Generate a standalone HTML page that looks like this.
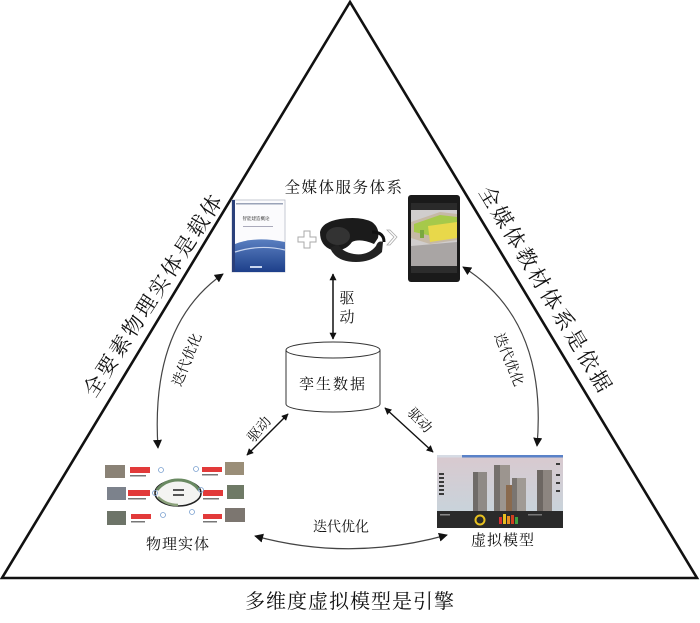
<!DOCTYPE html>
<html><head><meta charset="utf-8"><style>
html,body{margin:0;padding:0;background:#fff;}
svg{display:block;}
text{font-family:"Liberation Serif","Noto Serif CJK SC","Noto Sans CJK SC",serif;fill:#111;}
</style></head><body>
<svg width="700" height="623" viewBox="0 0 700 623" xmlns="http://www.w3.org/2000/svg">
<defs>
<marker id="ah" viewBox="0 0 10 10" refX="9" refY="5" markerWidth="7" markerHeight="7" orient="auto-start-reverse" markerUnits="userSpaceOnUse">
<path d="M0,0 L10,5 L0,10 z" fill="#111"/>
</marker>
<marker id="ah2" viewBox="0 0 10 10" refX="9" refY="5" markerWidth="9" markerHeight="9" orient="auto-start-reverse" markerUnits="userSpaceOnUse">
<path d="M0,0 L10,5 L0,10 z" fill="#111"/>
</marker>
<linearGradient id="sky" x1="0" y1="0" x2="0" y2="1"><stop offset="0" stop-color="#d9c9cf"/><stop offset="1" stop-color="#c4d6de"/></linearGradient>
<linearGradient id="bk" x1="0" y1="0" x2="0" y2="1"><stop offset="0" stop-color="#5a7fc0"/><stop offset="1" stop-color="#1d3f8a"/></linearGradient>
</defs>

<!-- Triangle -->
<polygon points="350,2 2,578 697,578" fill="none" stroke="#111" stroke-width="2.6" stroke-linejoin="miter"/>

<!-- Side labels -->
<text x="153" y="296" font-size="21" text-anchor="middle" dominant-baseline="central" transform="rotate(-57 153 296)" textLength="236" lengthAdjust="spacing">全要素物理实体是载体</text>
<text x="545" y="289" font-size="21" text-anchor="middle" dominant-baseline="central" transform="rotate(59 545 289)" textLength="236" lengthAdjust="spacing">全媒体教材体系是依据</text>

<!-- Top title -->
<text x="344" y="188" font-size="15.5" text-anchor="middle" dominant-baseline="central" letter-spacing="1.5">全媒体服务体系</text>

<!-- Book -->
<rect x="232" y="200" width="53" height="72" fill="#fbfbfd" stroke="#b8bcc8" stroke-width="0.8"/>
<rect x="232" y="200" width="3" height="72" fill="#2a3f7a"/>
<rect x="236" y="203" width="47" height="1.5" fill="#9aa3b8"/>
<text x="256" y="220" font-size="4.5" text-anchor="middle" fill="#334">智能建造概论</text>
<rect x="243" y="226" width="30" height="1" fill="#aab"/>
<path d="M235,244 Q255,236 285,242 L285,272 L235,272 Z" fill="url(#bk)"/>
<path d="M235,252 Q260,244 285,250" fill="none" stroke="#c9d6ef" stroke-width="1.2"/>
<rect x="250" y="266" width="12" height="2" fill="#c9d6ef"/>

<!-- Plus -->
<path d="M304,231 h6 v6 h6 v5 h-6 v6 h-6 v-6 h-6 v-5 h6 z" fill="#fff" stroke="#aaa" stroke-width="1"/>

<!-- VR headset -->
<path d="M320,232 Q322,222 340,219 Q360,216 372,222 Q380,228 378,238 L374,244 Q360,238 352,242 Q345,252 332,250 Q320,246 320,232 Z" fill="#1b1b1b"/>
<path d="M330,248 Q336,262 356,262 Q372,262 382,252 L383,242 Q378,240 376,246 Q368,256 354,254 Q342,252 338,244 Z" fill="#222"/>
<ellipse cx="338" cy="236" rx="12" ry="9" fill="#333"/>
<path d="M372,232 Q384,232 384,242" fill="none" stroke="#111" stroke-width="3"/>

<!-- Chevron -->
<path d="M387,230 L394,237 L387,245 L390,245 L397,237 L390,230 Z" fill="#fff" stroke="#aaa" stroke-width="0.8"/>

<!-- Phone -->
<rect x="408" y="195" width="52" height="87" rx="3" fill="#1a1a1a"/>
<rect x="411" y="203" width="46" height="70" fill="#d0cdcd"/>
<rect x="411" y="203" width="46" height="7" fill="#2a2a2a"/>
<path d="M411,222 L440,212 L457,214 L457,240 L430,244 L411,238 Z" fill="#c6b9a6"/>
<path d="M414,224 L440,215 L457,217 L457,232 L432,236 L414,232 Z" fill="#a6c94a"/>
<path d="M428,226 L457,222 L457,238 L430,242 Z" fill="#e8d84a"/>
<rect x="420" y="230" width="4" height="8" fill="#7aa840"/>
<path d="M411,246 L457,242 L457,273 L411,273 Z" fill="#a9a5a4"/>
<rect x="411" y="266" width="46" height="7" fill="#2c2c2c"/>

<!-- Vertical arrow -->
<line x1="333" y1="274" x2="333" y2="339" stroke="#111" stroke-width="1.5" marker-start="url(#ah)" marker-end="url(#ah)"/>
<text x="347" y="299" font-size="15" text-anchor="middle" dominant-baseline="central">驱</text>
<text x="347" y="318" font-size="15" text-anchor="middle" dominant-baseline="central">动</text>

<!-- Cylinder -->
<path d="M286,350 L286,404 A47,8 0 0 0 380,404 L380,350" fill="#fff" stroke="#333" stroke-width="1"/>
<ellipse cx="333" cy="350" rx="47" ry="8" fill="#fff" stroke="#333" stroke-width="1"/>
<text x="333" y="385" font-size="15" text-anchor="middle" dominant-baseline="central" letter-spacing="2">孪生数据</text>

<!-- Diagonal arrows -->
<line x1="288" y1="414" x2="247" y2="455" stroke="#111" stroke-width="1.4" marker-start="url(#ah)" marker-end="url(#ah)"/>
<text x="260" y="430" font-size="14" text-anchor="middle" dominant-baseline="central" transform="rotate(-50 260 430)">驱动</text>
<line x1="385" y1="408" x2="433" y2="452" stroke="#111" stroke-width="1.4" marker-start="url(#ah)" marker-end="url(#ah)"/>
<text x="419" y="421" font-size="14" text-anchor="middle" dominant-baseline="central" transform="rotate(46 419 421)">驱动</text>

<!-- Arcs -->
<path d="M158,448 Q150,325 223,274" fill="none" stroke="#444" stroke-width="1.2" marker-start="url(#ah2)" marker-end="url(#ah2)"/>
<text x="188" y="360" font-size="14" text-anchor="middle" dominant-baseline="central" transform="rotate(-68 188 360)">迭代优化</text>
<path d="M463,267 Q548,320 537,446" fill="none" stroke="#444" stroke-width="1.2" marker-start="url(#ah2)" marker-end="url(#ah2)"/>
<text x="508" y="360" font-size="14" text-anchor="middle" dominant-baseline="central" transform="rotate(68 508 360)">迭代优化</text>
<path d="M255,536 Q350,562 447,535" fill="none" stroke="#444" stroke-width="1.2" marker-start="url(#ah2)" marker-end="url(#ah2)"/>
<text x="341" y="528" font-size="14" text-anchor="middle" dominant-baseline="central">迭代优化</text>

<!-- Physical entity collage -->
<g>
<rect x="105" y="465" width="20" height="13" fill="#8a8276"/>
<rect x="107" y="487" width="19" height="13" fill="#7c828c"/>
<rect x="107" y="511" width="19" height="14" fill="#6d7468"/>
<rect x="225" y="462" width="19" height="13" fill="#9a8e78"/>
<rect x="227" y="485" width="17" height="14" fill="#6f7a66"/>
<rect x="225" y="508" width="20" height="14" fill="#7c7670"/>
<rect x="130" y="467" width="20" height="6" fill="#e23a3a"/>
<rect x="128" y="490" width="22" height="6" fill="#e23a3a"/>
<rect x="131" y="514" width="20" height="5" fill="#e23a3a"/>
<rect x="202" y="467" width="20" height="5" fill="#e23a3a"/>
<rect x="203" y="490" width="20" height="6" fill="#e23a3a"/>
<rect x="203" y="514" width="19" height="5" fill="#e23a3a"/>
<g fill="#777">
<rect x="130" y="475" width="16" height="1.5"/><rect x="128" y="498" width="18" height="1.5"/><rect x="131" y="521" width="14" height="1.5"/>
<rect x="202" y="474" width="16" height="1.5"/><rect x="203" y="498" width="16" height="1.5"/><rect x="203" y="521" width="14" height="1.5"/>
</g>
<ellipse cx="178" cy="493" rx="23" ry="13" fill="#f4f4f2" stroke="#222" stroke-width="1.5"/>
<path d="M157,490 Q165,480 178,480 Q192,480 199,490" fill="none" stroke="#6a8a62" stroke-width="3"/>
<path d="M158,497 Q166,505 178,505" fill="none" stroke="#8aa07a" stroke-width="2.5"/>
<rect x="173" y="489" width="11" height="2" fill="#555"/>
<rect x="173" y="494" width="11" height="2" fill="#555"/>
<g fill="none" stroke="#7aa0d0" stroke-width="0.8">
<circle cx="161" cy="470" r="2.5"/><circle cx="155" cy="493" r="2.5"/><circle cx="163" cy="515" r="2.5"/>
<circle cx="196" cy="469" r="2.5"/><circle cx="201" cy="490" r="2.5"/><circle cx="192" cy="512" r="2.5"/>
</g>
</g>
<text x="178" y="545" font-size="15" text-anchor="middle" dominant-baseline="central" letter-spacing="1">物理实体</text>

<!-- Virtual model -->
<rect x="437" y="455" width="126" height="73" fill="url(#sky)"/>
<rect x="437" y="455" width="126" height="2.5" fill="#d6dbe4"/>
<rect x="462" y="455" width="101" height="2.5" fill="#5a82c8"/>
<g fill="#3a3a3a"><rect x="439" y="473" width="5" height="2"/><rect x="439" y="477" width="5" height="2"/><rect x="439" y="481" width="5" height="2"/><rect x="439" y="485" width="5" height="2"/><rect x="439" y="489" width="5" height="2"/><rect x="439" y="493" width="5" height="2"/>
<rect x="556" y="463" width="4" height="2"/><rect x="556" y="474" width="4" height="2"/><rect x="556" y="482" width="4" height="2"/><rect x="556" y="490" width="4" height="2"/></g>
<rect x="473" y="472" width="14" height="40" fill="#8f8a86"/>
<rect x="473" y="472" width="5" height="40" fill="#6f6b68"/>
<rect x="494" y="465" width="16" height="47" fill="#9c958f"/>
<rect x="494" y="465" width="6" height="47" fill="#75706c"/>
<rect x="506" y="485" width="10" height="27" fill="#8a6a4e"/>
<rect x="512" y="478" width="14" height="34" fill="#a09a94"/>
<rect x="512" y="478" width="5" height="34" fill="#7a7571"/>
<rect x="537" y="470" width="15" height="42" fill="#8c8580"/>
<rect x="537" y="470" width="6" height="42" fill="#6c6662"/>
<rect x="437" y="511" width="126" height="17" fill="#2a2a2a"/>
<circle cx="480" cy="520" r="4.5" fill="none" stroke="#e6c020" stroke-width="2"/>
<rect x="499" y="517" width="3" height="7" fill="#d83030"/>
<rect x="503" y="514" width="3" height="10" fill="#e8c020"/>
<rect x="507" y="516" width="3" height="8" fill="#e89020"/>
<rect x="511" y="515" width="3" height="9" fill="#d04020"/>
<rect x="515" y="517" width="3" height="7" fill="#40a040"/>
<rect x="440" y="514" width="10" height="1.5" fill="#888"/>
<rect x="528" y="514" width="14" height="1.5" fill="#777"/>
</g>
<text x="503" y="541" font-size="15" text-anchor="middle" dominant-baseline="central" letter-spacing="1">虚拟模型</text>

<!-- Bottom title -->
<text x="350" y="602" font-size="20" text-anchor="middle" dominant-baseline="central" letter-spacing="1">多维度虚拟模型是引擎</text>
</svg>
</body></html>
